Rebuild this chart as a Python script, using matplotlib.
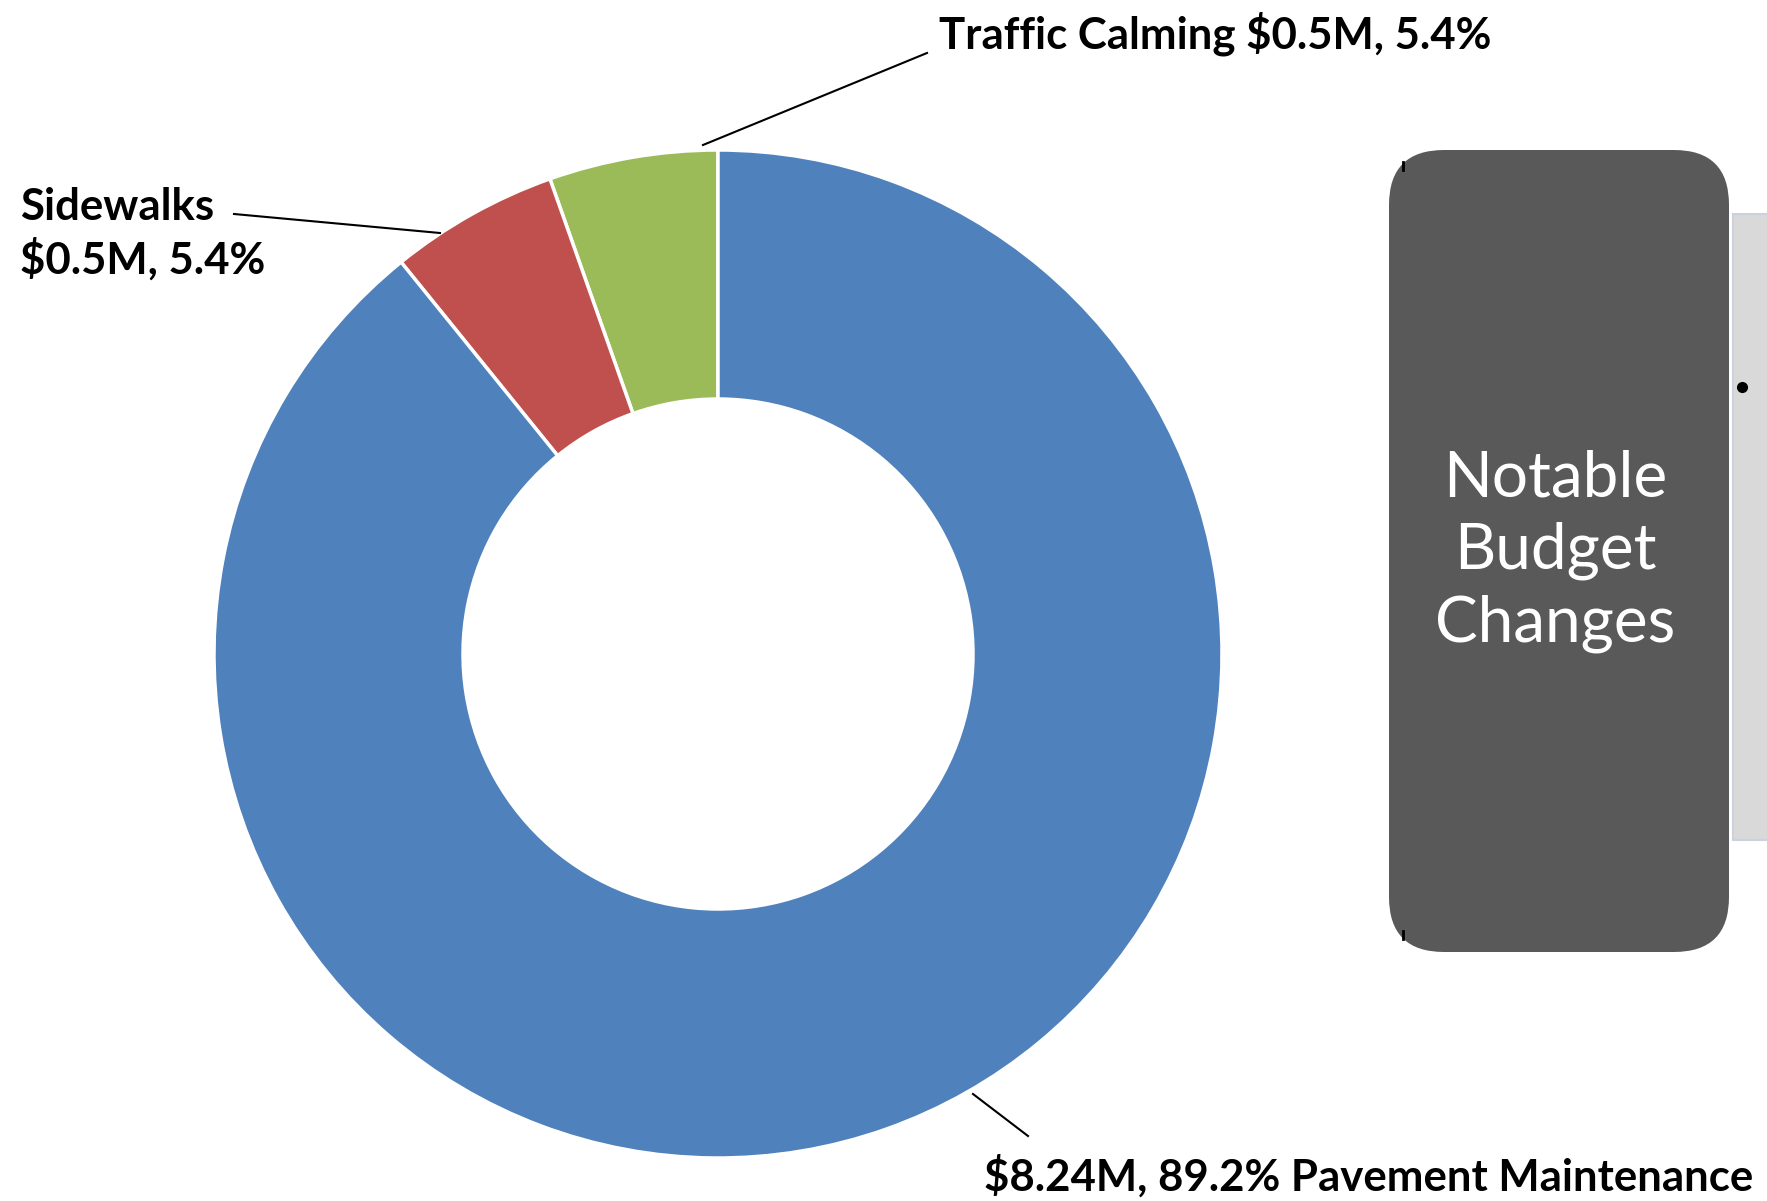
import matplotlib.pyplot as plt
from matplotlib.patches import FancyBboxPatch, Rectangle

# budget pieces (in $M), drawn counterclockwise from 12 o'clock
categories = ['Traffic Calming', 'Sidewalks', 'Pavement Maintenance']
values = [0.5, 0.5, 8.24]
colors = ['#9BBB59', '#C0504D', '#4F81BD']
labels = ['Traffic Calming $0.5M, 5.4%',
          'Sidewalks\n$0.5M, 5.4%',
          '$8.24M, 89.2% Pavement Maintenance']

W, H = 1767, 1201
fig = plt.figure(figsize=(W / 100, H / 100), dpi=100)
ax = fig.add_axes([0, 0, 1, 1])

def Y(y):
    # pixel row (from top) -> data y
    return H - y

cx, cy, r_out, r_in = 718, Y(654), 504, 255
ax.pie(values, colors=colors, startangle=90, counterclock=True,
       center=(cx, cy), radius=r_out,
       wedgeprops=dict(width=r_out - r_in, edgecolor='white', linewidth=2.5))

ax.set_xlim(0, W)
ax.set_ylim(0, H)
ax.set_aspect('equal')
ax.axis('off')

font = dict(family='Lato', fontweight='bold', fontsize=31.5, color='black')

# leader lines + labels
ax.plot([703, 927], [Y(145), Y(53)], color='black', lw=1.5)
ax.text(939, Y(34), labels[0], ha='left', va='center', **font)

ax.plot([234, 440], [Y(214), Y(233)], color='black', lw=1.5)
ax.text(20, Y(234), labels[1], ha='left', va='center', linespacing=1.3, **font)

ax.plot([973, 1028], [Y(1094), Y(1136)], color='black', lw=1.5)
ax.text(984, Y(1176), labels[2], ha='left', va='center', **font)

# side panel
ax.add_patch(Rectangle((1733, Y(840)), 40, 626, facecolor='#D9D9D9',
                       edgecolor='#C9D3E0', lw=1.5))
ax.plot([1742], [Y(387)], 'o', color='black', ms=7)
ax.add_patch(FancyBboxPatch((1389, Y(952)), 340, 802,
                            boxstyle='round,pad=0,rounding_size=55',
                            facecolor='#595959', edgecolor='none'))
ax.plot([1403, 1403], [Y(162), Y(170)], color='black', lw=2)
ax.plot([1403, 1403], [Y(931), Y(939)], color='black', lw=2)
ax.text(1555, Y(551), 'Notable\nBudget\nChanges', ha='center', va='center',
        family='Lato', fontsize=46, color='white', linespacing=1.3)

fig.savefig('out.png', dpi=100)
